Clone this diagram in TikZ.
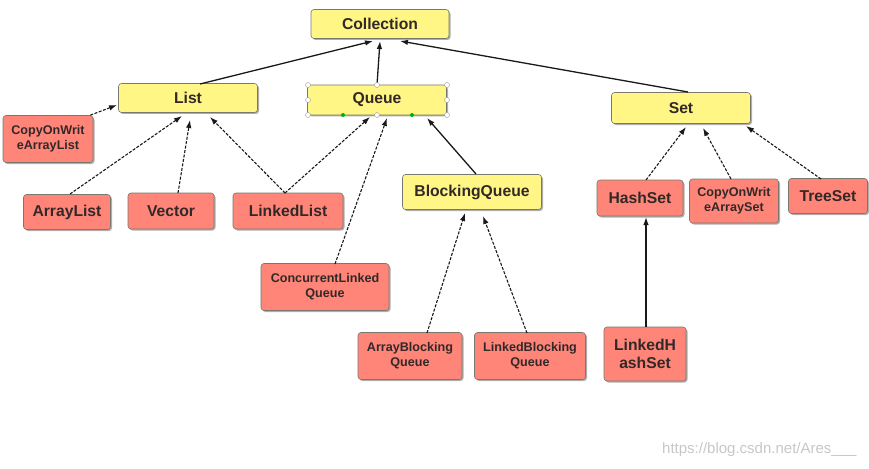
\documentclass[tikz,border=0pt]{standalone}
\usepackage{fontspec}
\setmainfont{Liberation Sans}
\usetikzlibrary{arrows.meta,shadows}
\definecolor{ybox}{RGB}{255,246,133}
\definecolor{rbox}{RGB}{255,133,120}
\definecolor{edgegray}{RGB}{120,120,110}
\definecolor{txt}{RGB}{50,40,40}
\tikzset{
  base/.style={draw=edgegray, line width=0.6pt, rounded corners=3pt, align=center,
    text=txt, font=\bfseries, inner sep=0pt,
    drop shadow={shadow xshift=1.5pt, shadow yshift=-1.5pt, opacity=0.45, fill=black!70}},
  ybx/.style={base, fill=ybox},
  rbx/.style={base, fill=rbox},
  big/.style={font=\bfseries\fontsize{15.7}{18}\selectfont},
  small/.style={font=\bfseries\fontsize{12.6}{15}\selectfont},
  solidarr/.style={-{Latex[length=8pt,width=5.5pt]}, line width=1.3pt, black!90},
  dasharr/.style={-{Latex[length=8pt,width=5.5pt]}, line width=1.1pt, black!90, dash pattern=on 3pt off 1.5pt},
  handle/.style={circle, draw=black!40, fill=white, inner sep=0pt, minimum size=5pt, line width=0.4pt},
  ghandle/.style={circle, fill=green!70!black, inner sep=0pt, minimum size=4pt},
}
\begin{document}
\begin{tikzpicture}[x=1pt,y=-1pt]
\useasboundingbox (0,0) rectangle (869,468);
% yellow interfaces
\node[ybx, big, minimum width=138pt, minimum height=29pt] (coll) at (380,24) {Collection};
\node[ybx, big, minimum width=139pt, minimum height=29pt] (list) at (188,98) {List};
\node[ybx, big, minimum width=139pt, minimum height=30pt] (queue) at (377,100) {Queue};
\node[ybx, big, minimum width=139pt, minimum height=31pt] (set) at (681,108) {Set};
\node[ybx, big, minimum width=139pt, minimum height=35pt] (bq) at (472,192) {BlockingQueue};
% red classes
\node[rbx, small, minimum width=90pt, minimum height=47pt] (cowal) at (48,139) {CopyOnWrit\\eArrayList};
\node[rbx, big, minimum width=87pt, minimum height=35pt] (al) at (67,212) {ArrayList};
\node[rbx, big, minimum width=86pt, minimum height=36pt] (vec) at (171,211) {Vector};
\node[rbx, big, minimum width=110pt, minimum height=36pt] (ll) at (288,211) {LinkedList};
\node[rbx, small, minimum width=128pt, minimum height=47pt] (clq) at (325,287) {ConcurrentLinked\\Queue};
\node[rbx, small, minimum width=104pt, minimum height=47pt] (abq) at (410,356) {ArrayBlocking\\Queue};
\node[rbx, small, minimum width=111pt, minimum height=47pt] (lbq) at (530,356) {LinkedBlocking\\Queue};
\node[rbx, big, minimum width=86pt, minimum height=36pt] (hs) at (640,198) {HashSet};
\node[rbx, small, minimum width=89pt, minimum height=44pt] (cowas) at (734,201) {CopyOnWrit\\eArraySet};
\node[rbx, big, minimum width=79pt, minimum height=35pt] (ts) at (828,196) {TreeSet};
\node[rbx, big, minimum width=82pt, minimum height=54pt] (lhs) at (645,354) {LinkedH\\ashSet};
% anchor coordinates
\coordinate (collL) at (373,41);
\coordinate (collM) at (380,41);
\coordinate (collR) at (400,41);
\coordinate (listT) at (200,84);
\coordinate (queueT) at (377,85);
\coordinate (setT) at (688,92);
% solid arrows to Collection
\draw[solidarr] (listT) -- (collL);
\draw[solidarr] (queueT) -- (collM);
\draw[solidarr] (setT) -- (collR);
% List implementations
\draw[dasharr] (cowal.north east) ++(-3,0) coordinate (c1) -- (117,105) coordinate (l1);
\draw[dasharr] (70,194) coordinate (a1) -- (182,116) coordinate (l2);
\draw[dasharr] (178,193) coordinate (v1) -- (190,120) coordinate (l3);
\draw[dasharr] (285,193) coordinate (ll1) -- (210,117) coordinate (l4);
% Queue implementations
\draw[dasharr] (ll1) -- (370,117) coordinate (q1);
\draw[dasharr] (335,264) coordinate (cq1) -- (387,118) coordinate (q2);
\draw[solidarr] (476,174) coordinate (bq1) -- (427,118) coordinate (q3);
% BlockingQueue implementations
\draw[dasharr] (427,333) coordinate (ab1) -- (465,213) coordinate (b1);
\draw[dasharr] (527,333) coordinate (lb1) -- (483,216) coordinate (b2);
% Set implementations
\draw[dasharr] (646,180) coordinate (h1) -- (686,127) coordinate (s1);
\draw[dasharr] (731,179) coordinate (cw1) -- (703,128) coordinate (s2);
\draw[dasharr] (821,179) coordinate (t1) -- (746,126) coordinate (s3);
\draw[solidarr] (646,327) coordinate (lh1) -- (646,217) coordinate (h2);
% selection handles on Queue
\foreach \p in {(308,85),(377,85),(447,85),(308,100),(447,100),(308,115),(377,115),(447,115)}
  \node[handle] at \p {};
\node[ghandle] at (343,115) {};
\node[ghandle] at (412,115) {};
% watermark
\node[text=black!22, font=\fontsize{15}{17}\selectfont, anchor=east] (wm) at (860,450) {https://blog.csdn.net/Ares\_\_\_};
\end{tikzpicture}
\end{document}
